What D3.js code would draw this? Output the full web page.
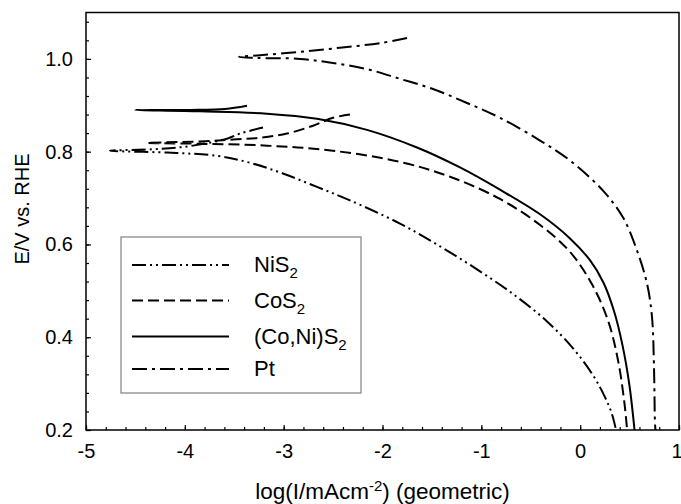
<!DOCTYPE html>
<html>
<head>
<meta charset="utf-8">
<script src="https://cdn.jsdelivr.net/npm/d3@7"></script>
<style>
  body { margin: 0; background: #fff; }
  text { font-family: "Liberation Sans", Arial, sans-serif; fill: #000; }
</style>
</head>
<body>
<script>
// log(I) values (x) and potentials (y)
var nis2X = [-3.209, -3.442, -3.573, -3.917, -4.251, -4.757, -4.180, -3.674, -3.341, -3.007, -2.663, -2.329, -1.823, -1.418, -1.013, -0.659, -0.335, -0.072, 0.130, 0.251, 0.322, 0.363];
var nis2Y = [0.852, 0.839, 0.828, 0.813, 0.806, 0.802, 0.798, 0.791, 0.776, 0.753, 0.724, 0.695, 0.645, 0.596, 0.542, 0.490, 0.434, 0.376, 0.318, 0.271, 0.234, 0.200];

var cos2X = [-2.329, -2.501, -2.703, -2.966, -3.239, -3.513, -3.847, -4.383, -3.847, -3.169, -2.501, -1.823, -1.317, -0.811, -0.406, -0.103, 0.120, 0.285, 0.385, 0.448, 0.475];
var cos2Y = [0.880, 0.873, 0.856, 0.839, 0.830, 0.826, 0.822, 0.819, 0.817, 0.813, 0.802, 0.778, 0.746, 0.698, 0.642, 0.584, 0.514, 0.434, 0.348, 0.258, 0.200];

var conisX = [-3.371, -3.594, -3.948, -4.504, -3.847, -3.169, -2.663, -2.157, -1.651, -1.216, -0.811, -0.406, -0.103, 0.099, 0.235, 0.340, 0.428, 0.498, 0.550];
var conisY = [0.899, 0.892, 0.890, 0.890, 0.887, 0.882, 0.871, 0.847, 0.809, 0.766, 0.718, 0.665, 0.613, 0.566, 0.518, 0.458, 0.383, 0.297, 0.200];

var ptX = [-1.752, -2.025, -2.430, -2.835, -3.240, -3.452, -3.270, -2.835, -2.501, -2.157, -1.823, -1.489, -1.145, -0.811, -0.406, -0.103, 0.231, 0.434, 0.575, 0.676, 0.727, 0.747, 0.757, 0.762];
var ptY = [1.045, 1.034, 1.024, 1.015, 1.008, 1.004, 1.002, 1.000, 0.991, 0.978, 0.957, 0.935, 0.905, 0.873, 0.824, 0.781, 0.716, 0.658, 0.587, 0.516, 0.443, 0.335, 0.215, 0.200];

var seriesNames = ["NiS", "CoS", "(Co,Ni)S", "Pt"];
var seriesSub = ["2", "2", "2", ""];
var dashes = ["14,4,2,4,2,4", "11,5", null, "15,5,3,5"];

var xTicks = [-5, -4, -3, -2, -1, 0, 1];
var yTicks = [0.2, 0.4, 0.6, 0.8, 1.0];

var W = 681, H = 504;
var margin = {top: 12.5, right: 2, bottom: 74, left: 86};
var w = W - margin.left - margin.right,
    h = H - margin.top - margin.bottom;

var svg = d3.select("body").append("svg")
    .attr("width", W)
    .attr("height", H);

var x = d3.scaleLinear().domain([-5, 1]).range([0, w]);
var y = d3.scaleLinear().domain([0.2, 1.1]).range([h, 0]);

var g = svg.append("g")
    .attr("transform", "translate(" + margin.left + "," + margin.top + ")");

g.append("clipPath").attr("id", "clip")
    .append("rect").attr("width", w).attr("height", h);

// minor ticks first
var minorX = d3.range(-5, 1.001, 0.2).map(function (d) { return +d.toFixed(1); });
var minorY = d3.range(0.2, 1.101, 0.04).map(function (d) { return +d.toFixed(2); });

g.append("g")
    .attr("transform", "translate(0," + h + ")")
    .call(d3.axisBottom(x).tickValues(minorX).tickSize(-3).tickFormat(""))
    .call(function (a) { a.select(".domain").remove(); });
g.append("g")
    .call(d3.axisLeft(y).tickValues(minorY).tickSize(-3).tickFormat(""))
    .call(function (a) { a.select(".domain").remove(); });

// major ticks
var xAxis = g.append("g")
    .attr("transform", "translate(0," + h + ")")
    .call(d3.axisBottom(x).tickValues(xTicks).tickSize(-5).tickPadding(14)
        .tickFormat(function (d) { return d; }));
var yAxis = g.append("g")
    .call(d3.axisLeft(y).tickValues(yTicks).tickSize(-5).tickPadding(13)
        .tickFormat(d3.format(".1f")));

[xAxis, yAxis].forEach(function (a) {
    a.select(".domain").remove();
    a.selectAll("text").style("font-size", "20px").style("font-family", "Liberation Sans, Arial, sans-serif");
});
// last x label sits on the edge of the page
xAxis.selectAll(".tick text").filter(function (d) { return d === 1; })
    .attr("text-anchor", "end").attr("x", 3);
g.selectAll(".tick line").attr("stroke", "#000").attr("stroke-width", 1.2);

// frame
g.append("rect")
    .attr("width", w).attr("height", h)
    .attr("fill", "none").attr("stroke", "#000").attr("stroke-width", 1.5);

var lineFn = d3.line()
    .x(function (d) { return x(d[0]); })
    .y(function (d) { return y(d[1]); })
    .curve(d3.curveCatmullRom.alpha(0.5));

var allX = [nis2X, cos2X, conisX, ptX];
var allY = [nis2Y, cos2Y, conisY, ptY];

allX.forEach(function (xs, i) {
    var pts = xs.map(function (v, j) { return [v, allY[i][j]]; });
    g.append("path")
        .attr("clip-path", "url(#clip)")
        .attr("d", lineFn(pts))
        .attr("fill", "none")
        .attr("stroke", "#000")
        .attr("stroke-width", 2)
        .attr("stroke-dasharray", dashes[i]);
});

// legend
var leg = svg.append("g");
leg.append("rect")
    .attr("x", 121).attr("y", 237).attr("width", 240).attr("height", 156)
    .attr("fill", "#fff").attr("stroke", "#808080").attr("stroke-width", 1.2);

var rowY = [265, 300.5, 336.5, 369];
seriesNames.forEach(function (name, i) {
    leg.append("line")
        .attr("x1", 132).attr("x2", 229)
        .attr("y1", rowY[i]).attr("y2", rowY[i])
        .attr("stroke", "#000").attr("stroke-width", 2)
        .attr("stroke-dasharray", dashes[i]);
    var t = leg.append("text")
        .attr("x", 254).attr("y", rowY[i] + 7)
        .style("font-size", "22px")
        .text(name);
    if (seriesSub[i]) {
        t.append("tspan").attr("dy", 6).style("font-size", "15px").text(seriesSub[i]);
    }
});

// axis titles
svg.append("text")
    .attr("transform", "translate(29,209) rotate(-90)")
    .attr("text-anchor", "middle")
    .style("font-size", "20px")
    .text("E/V vs. RHE");

var xt = svg.append("text")
    .attr("x", margin.left + w / 2).attr("y", 499)
    .attr("text-anchor", "middle")
    .style("font-size", "22.5px");
xt.append("tspan").text("log(I/mAcm");
xt.append("tspan").attr("dy", -8).style("font-size", "15px").text("-2");
xt.append("tspan").attr("dy", 8).text(") (geometric)");
</script>
</body>
</html>
